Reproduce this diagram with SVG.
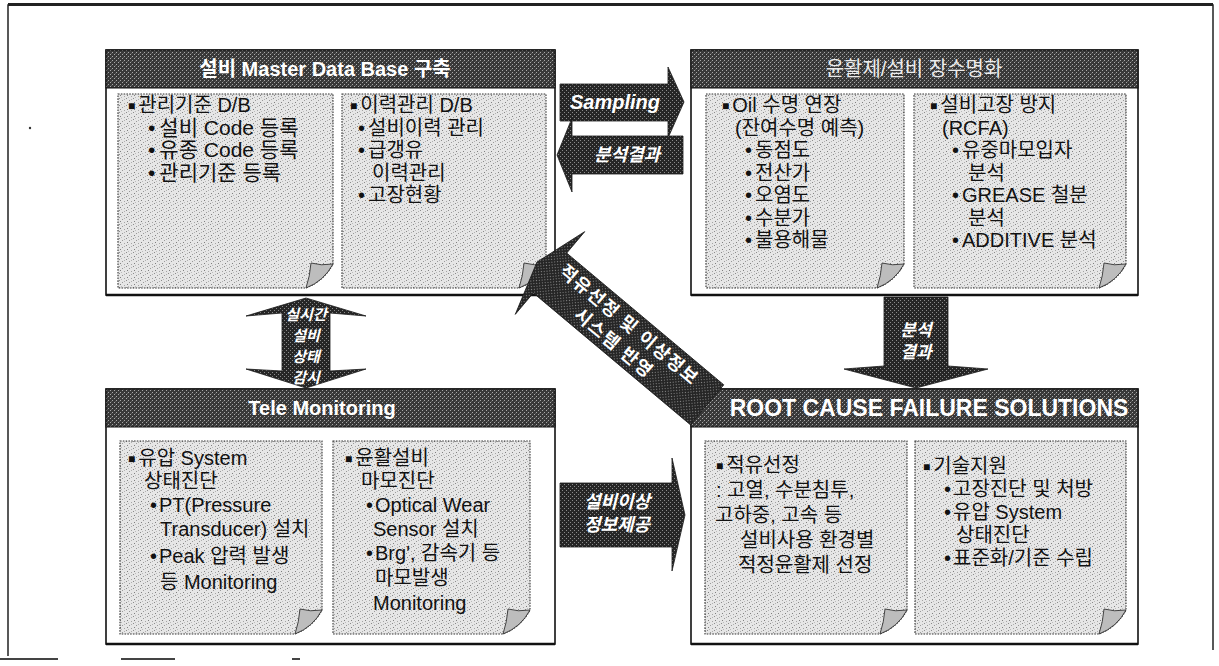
<svg xmlns="http://www.w3.org/2000/svg" width="1219" height="666" viewBox="0 0 1219 666">
<defs>
<pattern id="dk" width="4" height="4" patternUnits="userSpaceOnUse">
<rect width="4" height="4" fill="#383838"/>
<rect x="0" y="0" width="1" height="1" fill="#a8a8a8"/>
<rect x="2" y="2" width="1" height="1" fill="#a8a8a8"/>
<rect x="3" y="1" width="1" height="1" fill="#5a5a5a"/>
</pattern>
<pattern id="ar" width="4" height="4" patternUnits="userSpaceOnUse">
<rect width="4" height="4" fill="#262626"/>
<rect x="0" y="0" width="1" height="1" fill="#8a8a8a"/>
<rect x="2" y="2" width="1" height="1" fill="#8a8a8a"/>
</pattern>
<pattern id="lt" width="7" height="7" patternUnits="userSpaceOnUse">
<rect width="7" height="7" fill="#e6e6e6"/>
<rect x="0" y="0" width="1" height="1" fill="#8c8c8c"/>
<rect x="3" y="2" width="1" height="1" fill="#9a9a9a"/>
<rect x="1" y="4" width="1" height="1" fill="#808080"/>
<rect x="5" y="5" width="1" height="1" fill="#a5a5a5"/>
<rect x="5" y="1" width="1" height="1" fill="#b0b0b0"/>
<rect x="2" y="6" width="1" height="1" fill="#bbbbbb"/>
</pattern>
</defs>
<style>
.box{fill:#fff;stroke:#111;stroke-width:1.6}
.bot{stroke:#111;stroke-width:2.6}
.hdr{fill:url(#dk);stroke:#111;stroke-width:1}
.note{fill:url(#lt);stroke:#333;stroke-width:1.1;stroke-dasharray:1.6 1.2}
.curl{fill:#bdbdbd;stroke:#333;stroke-width:0.9}
.arrow{fill:url(#ar);stroke:#1a1a1a;stroke-width:0.8}
text{font-family:"Liberation Sans","Noto Sans CJK KR",sans-serif}
.tt{font-size:20px;font-weight:bold;fill:#fff;text-anchor:middle}
.tl{font-size:20px;fill:#ececec;text-anchor:middle}
.nt{font-size:20px;fill:#111}
.big{font-size:21px}
.sq{font-size:12px}
.at{font-size:20px;font-weight:bold;font-style:italic;fill:#fff;text-anchor:middle}
.as{font-size:18px;font-weight:bold;font-style:italic;fill:#fff;text-anchor:middle}
.av{font-size:15px;font-weight:bold;font-style:italic;fill:#fff;text-anchor:middle}
.ad{font-size:18px;font-weight:bold;fill:#fff;text-anchor:middle;letter-spacing:1.5px}
.frame{fill:none;stroke:#222;stroke-width:1.5}
</style>
<rect width="1219" height="666" fill="#fff"/>
<g id="frame">
<path class="frame" d="M8,656 V5 H1213 V650"/>
<line x1="8" y1="4.5" x2="1213" y2="4.5" stroke="#222" stroke-width="3"/>
<path d="M0,659 H58 M121,659 H175 M292,659 H300" stroke="#444" stroke-width="2"/>
<circle cx="30" cy="128" r="1.2" fill="#333"/>
</g>

<g id="master-db">
<rect class="box" x="106" y="50" width="449" height="245"/>
<line class="bot" x1="106" y1="295" x2="555" y2="295"/>
<rect class="hdr" x="106" y="50" width="449" height="38"/>
<text class="tt" x="325" y="76">설비 Master Data Base 구축</text>
<path class="note" d="M118,94 H333 V264 Q324,281 306,288 H118 Z"/>
<path class="curl" d="M333,264 Q321,266 311,263 Q310,276 306,288 Q324,281 333,264 Z"/>
<text class="nt" x="128" y="112"><tspan class="sq" dy="-2">■</tspan><tspan dx="3" dy="2">관리기준 D/B</tspan></text>
<text class="nt big" x="148" y="134.5">•<tspan dx="4">설비 Code 등록</tspan></text>
<text class="nt big" x="148" y="157">•<tspan dx="4">유종 Code 등록</tspan></text>
<text class="nt big" x="148" y="179.5">•<tspan dx="4">관리기준 등록</tspan></text>
<path class="note" d="M342,94 H546 V264 Q537,281 519,288 H342 Z"/>
<path class="curl" d="M546,264 Q534,266 524,263 Q523,276 519,288 Q537,281 546,264 Z"/>
<text class="nt" x="350" y="112"><tspan class="sq" dy="-2">■</tspan><tspan dx="3" dy="2">이력관리 D/B</tspan></text>
<text class="nt" x="358" y="134.5">•<tspan dx="3">설비이력 관리</tspan></text>
<text class="nt" x="358" y="157">•<tspan dx="3">급갱유</tspan></text>
<text class="nt" x="372" y="179.5">이력관리</text>
<text class="nt" x="358" y="202">•<tspan dx="3">고장현황</tspan></text>
</g>

<g id="longevity">
<rect class="box" x="691" y="50" width="447" height="245"/>
<line class="bot" x1="691" y1="295" x2="1138" y2="295"/>
<rect class="hdr" x="691" y="50" width="447" height="38"/>
<text class="tl" x="914" y="76">윤활제/설비 장수명화</text>
<path class="note" d="M706,94 H904 V264 Q895,281 877,288 H706 Z"/>
<path class="curl" d="M904,264 Q892,266 882,263 Q881,276 877,288 Q895,281 904,264 Z"/>
<text class="nt" x="722" y="112"><tspan class="sq" dy="-2">■</tspan><tspan dx="3" dy="2">Oil 수명 연장</tspan></text>
<text class="nt" x="735" y="134.5">(잔여수명 예측)</text>
<text class="nt" x="745" y="157">•<tspan dx="3">동점도</tspan></text>
<text class="nt" x="745" y="179.5">•<tspan dx="3">전산가</tspan></text>
<text class="nt" x="745" y="202">•<tspan dx="3">오염도</tspan></text>
<text class="nt" x="745" y="224.5">•<tspan dx="3">수분가</tspan></text>
<text class="nt" x="745" y="247">•<tspan dx="3">불용해물</tspan></text>
<path class="note" d="M914,94 H1126 V264 Q1117,281 1099,288 H914 Z"/>
<path class="curl" d="M1126,264 Q1114,266 1104,263 Q1103,276 1099,288 Q1117,281 1126,264 Z"/>
<text class="nt" x="930" y="112"><tspan class="sq" dy="-2">■</tspan><tspan dx="3" dy="2">설비고장 방지</tspan></text>
<text class="nt" x="942" y="134.5">(RCFA)</text>
<text class="nt" x="952" y="157">•<tspan dx="3">유중마모입자</tspan></text>
<text class="nt" x="968" y="179.5">분석</text>
<text class="nt" x="952" y="202">•<tspan dx="3">GREASE 철분</tspan></text>
<text class="nt" x="968" y="224.5">분석</text>
<text class="nt" x="952" y="247">•<tspan dx="3">ADDITIVE 분석</tspan></text>
</g>

<g id="tele-monitoring">
<rect class="box" x="106" y="389" width="449" height="255"/>
<line class="bot" x1="106" y1="644" x2="555" y2="644"/>
<rect class="hdr" x="106" y="389" width="449" height="38"/>
<text class="tt" x="322" y="415">Tele Monitoring</text>
<path class="note" d="M120,441 H322 V610 Q313,627 295,634 H120 Z"/>
<path class="curl" d="M322,610 Q310,612 300,609 Q299,622 295,634 Q313,627 322,610 Z"/>
<text class="nt" x="128" y="465"><tspan class="sq" dy="-2">■</tspan><tspan dx="3" dy="2">유압 System</tspan></text>
<text class="nt" x="144" y="488">상태진단</text>
<text class="nt" x="150" y="512">•<tspan dx="2">PT(Pressure</tspan></text>
<text class="nt" x="160" y="536">Transducer) 설치</text>
<text class="nt" x="150" y="563">•<tspan dx="2">Peak 압력 발생</tspan></text>
<text class="nt" x="160" y="589">등 Monitoring</text>
<path class="note" d="M333,441 H530 V610 Q521,627 503,634 H333 Z"/>
<path class="curl" d="M530,610 Q518,612 508,609 Q507,622 503,634 Q521,627 530,610 Z"/>
<text class="nt" x="345" y="465"><tspan class="sq" dy="-2">■</tspan><tspan dx="3" dy="2">윤활설비</tspan></text>
<text class="nt" x="361" y="488">마모진단</text>
<text class="nt" x="366" y="512">•<tspan dx="2">Optical Wear</tspan></text>
<text class="nt" x="373" y="536">Sensor 설치</text>
<text class="nt" x="366" y="560">•<tspan dx="2">Brg', 감속기 등</tspan></text>
<text class="nt" x="375" y="585">마모발생</text>
<text class="nt" x="373" y="610">Monitoring</text>
</g>

<g id="rcfs">
<rect class="box" x="691" y="389" width="447" height="255"/>
<line class="bot" x1="691" y1="644" x2="1138" y2="644"/>
<rect class="hdr" x="691" y="389" width="447" height="38"/>
<text class="tt" x="929" y="416" style="font-size:23px">ROOT CAUSE FAILURE SOLUTIONS</text>
<path class="note" d="M705,441 H907 V610 Q898,627 880,634 H705 Z"/>
<path class="curl" d="M907,610 Q895,612 885,609 Q884,622 880,634 Q898,627 907,610 Z"/>
<text class="nt" x="716" y="472"><tspan class="sq" dy="-2">■</tspan><tspan dx="3" dy="2">적유선정</tspan></text>
<text class="nt" x="716" y="497">: 고열, 수분침투,</text>
<text class="nt" x="715" y="522">고하중, 고속 등</text>
<text class="nt" x="740" y="547">설비사용 환경별</text>
<text class="nt" x="738" y="572">적정윤활제 선정</text>
<path class="note" d="M915,441 H1126 V610 Q1117,627 1099,634 H915 Z"/>
<path class="curl" d="M1126,610 Q1114,612 1104,609 Q1103,622 1099,634 Q1117,627 1126,610 Z"/>
<text class="nt" x="923" y="473"><tspan class="sq" dy="-2">■</tspan><tspan dx="3" dy="2">기술지원</tspan></text>
<text class="nt" x="944" y="496">•<tspan dx="2">고장진단 및 처방</tspan></text>
<text class="nt" x="944" y="519">•<tspan dx="2">유압 System</tspan></text>
<text class="nt" x="956" y="542">상태진단</text>
<text class="nt" x="944" y="565">•<tspan dx="2">표준화/기준 수립</tspan></text>
</g>

<g id="connectors">
<path class="arrow" d="M560,84 H668 V67 L684,102 L668,138 V121 H560 Z"/>
<text class="at" x="615" y="109">Sampling</text>
<path class="arrow" d="M683,136 H572 V118 L557,155 L572,192 V174 H683 Z"/>
<text class="as" x="627" y="161">분석결과</text>
<path class="arrow" d="M306,298 L366,316 L330,313 V371 L366,369 L306,388 L246,369 L282,371 V313 L246,316 Z"/>
<text class="av" x="306" y="320">실시간</text>
<text class="av" x="306" y="341">설비</text>
<text class="av" x="306" y="362">상태</text>
<text class="av" x="306" y="383">감시</text>
<path class="arrow" d="M884,297 H948 V366 L988,369 L916,388 L844,369 L884,366 Z"/>
<text class="as" x="916" y="336" style="font-size:17px">분석</text>
<text class="as" x="916" y="358" style="font-size:17px">결과</text>
<path class="arrow" d="M560,483 H672 V458 L685,515 L672,571 V547 H560 Z"/>
<text class="as" x="617" y="508">설비이상</text>
<text class="as" x="617" y="531">정보제공</text>
<g transform="translate(550,273) rotate(40)">
<path class="arrow" d="M0,-26 H205 V26 H0 V54 L-17,0 L0,-54 Z"/>
<text class="ad" x="94" y="-5">적유선정 및 이상정보</text>
<text class="ad" x="94" y="19">시스템 반영</text>
</g>
</g>
</svg>
